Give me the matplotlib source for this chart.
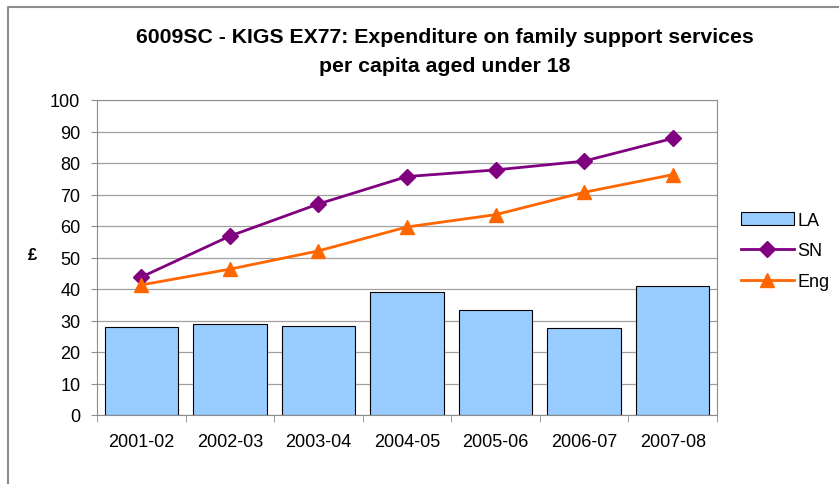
import numpy as np
import matplotlib.pyplot as plt
from matplotlib.lines import Line2D

plt.rcParams['font.family'] = ['Liberation Sans', 'DejaVu Sans']

years = ['2001-02', '2002-03', '2003-04', '2004-05', '2005-06', '2006-07', '2007-08']
la = [28.0, 29.0, 28.2, 39.2, 33.4, 27.6, 41.0]
sn = [43.8, 56.8, 67.0, 75.7, 77.8, 80.6, 87.8]
eng = [41.3, 46.3, 52.1, 59.7, 63.6, 70.7, 76.3]

W, H = 839, 485
fig = plt.figure(figsize=(W / 100, H / 100), dpi=100)
ax = fig.add_axes([97 / W, (H - 416) / H, (717 - 97) / W, (416 - 101) / H])

# outer chart frame (left and top edges only)
fig.lines.append(Line2D([7.5 / W, 7.5 / W, 1.0], [0.0, 1 - 7.5 / H, 1 - 7.5 / H],
                        transform=fig.transFigure, color='#8c8c8c', linewidth=1.5))

x = np.arange(len(years))
bars = ax.bar(x, la, width=0.83, color='#99CCFF', edgecolor='black', linewidth=0.8,
              label='LA', zorder=2)
l_sn, = ax.plot(x, sn, color='#800080', marker='D', markersize=8, linewidth=2,
                label='SN', zorder=3)
l_eng, = ax.plot(x, eng, color='#FF6600', marker='^', markersize=10, linewidth=2,
                 label='Eng', zorder=3)

ax.set_xlim(-0.5, len(years) - 0.5)
ax.set_ylim(0, 100)
ax.set_yticks(range(0, 101, 10))
ax.yaxis.grid(True, color='#a0a0a0', linewidth=0.9, zorder=0)
ax.set_axisbelow(True)
ax.set_xticks(x)
ax.set_xticklabels(years, fontsize=13)
ax.set_xticks(np.arange(-0.5, len(years)), minor=True)
ax.tick_params(axis='x', which='major', length=0, pad=13)
ax.tick_params(axis='x', which='minor', length=5, color='#8c8c8c')
ax.tick_params(axis='y', labelsize=13, length=4, color='#8c8c8c', pad=8)
for s in ax.spines.values():
    s.set_color('#8c8c8c')

fig.text(32 / W, 1 - 256 / H, '£', ha='center', va='center',
         fontsize=12, fontweight='bold')

fig.text(445 / W, 1 - 38 / H, '6009SC - KIGS EX77: Expenditure on family support services',
         ha='center', va='center', fontsize=15.3, fontweight='bold')
fig.text(445 / W, 1 - 66 / H, 'per capita aged under 18',
         ha='center', va='center', fontsize=15.3, fontweight='bold')

fig.legend([bars, l_sn, l_eng], ['LA', 'SN', 'Eng'], loc='center left',
           bbox_to_anchor=(725 / W, 1 - 252 / H), frameon=False,
           fontsize=13, handlelength=2.9, labelspacing=0.75, handletextpad=0.2)

fig.savefig('out.png', dpi=100)
